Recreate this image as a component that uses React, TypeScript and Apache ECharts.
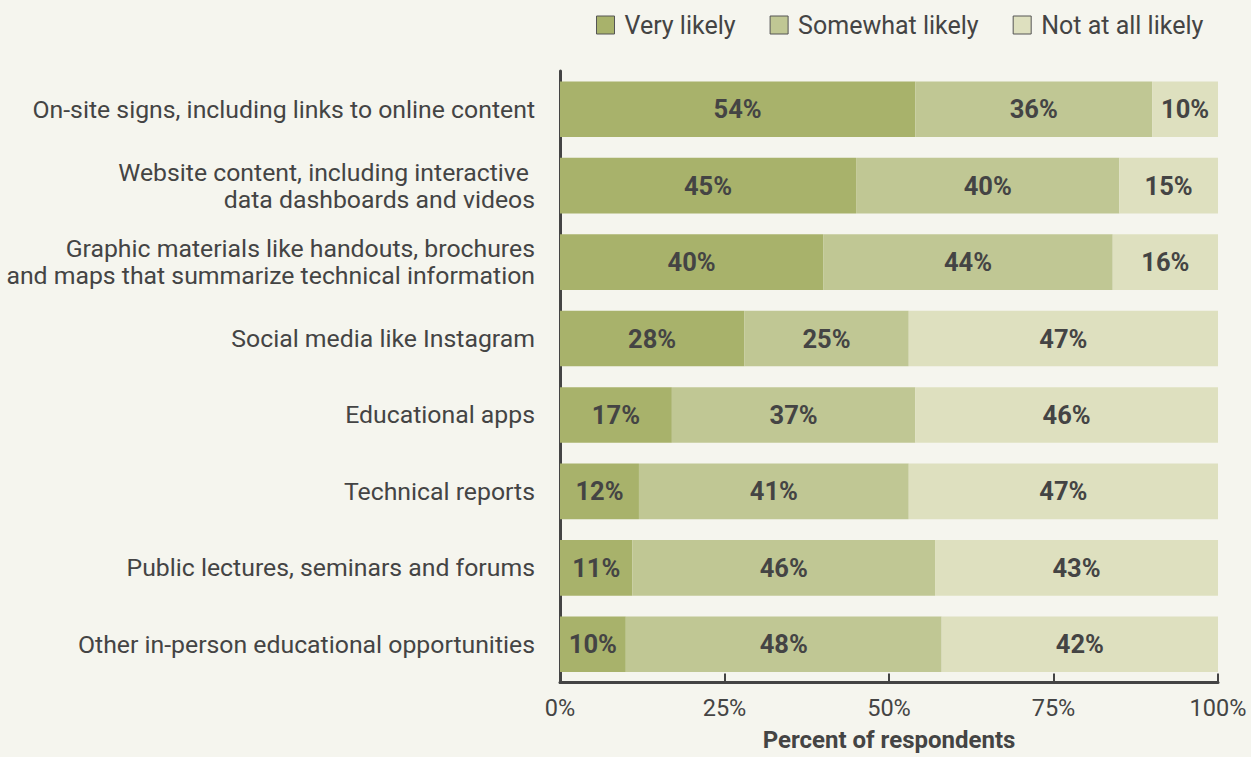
import React, { useEffect, useRef } from "react";
import * as echarts from "echarts";

const categories = [
  "On-site signs, including links to online content",
  "Website content, including interactive \ndata dashboards and videos",
  "Graphic materials like handouts, brochures\nand maps that summarize technical information",
  "Social media like Instagram",
  "Educational apps",
  "Technical reports",
  "Public lectures, seminars and forums",
  "Other in-person educational opportunities",
];
const veryLikely = [54, 45, 40, 28, 17, 12, 11, 10];
const somewhatLikely = [36, 40, 44, 25, 37, 41, 46, 48];
const notAtAllLikely = [10, 15, 16, 47, 46, 47, 43, 42];
const seriesNames = ["Very likely", "Somewhat likely", "Not at all likely"];
const colors = ["#a8b26b", "#c0c794", "#dee0bf"];

const FONT = "Roboto, 'Noto Sans', sans-serif";
const TEXT = "#444444";

export default function App() {
  const ref = useRef<HTMLDivElement>(null);
  useEffect(() => {
    if (!ref.current) return;
    const chart = echarts.init(ref.current, null, { renderer: "svg" });
    const data = [veryLikely, somewhatLikely, notAtAllLikely];
    chart.setOption({
      animation: false,
      backgroundColor: "#f5f5ee",
      textStyle: { fontFamily: FONT, color: TEXT },
      legend: {
        left: 591,
        top: 7.5,
        icon: "rect",
        itemWidth: 18,
        itemHeight: 18,
        itemGap: 34,
        textStyle: { fontFamily: FONT, fontSize: 25, color: TEXT, padding: [0, 0, 0, 5] },
        data: seriesNames.map((n, i) => ({
          name: n,
          itemStyle: { color: colors[i], borderColor: "#555555", borderWidth: 1 },
        })),
      },
      grid: { left: 560, right: 33, top: 71, bottom: 71, containLabel: false },
      xAxis: {
        type: "value",
        min: 0,
        max: 100,
        interval: 25,
        axisLine: { show: true, lineStyle: { color: TEXT, width: 3 } },
        axisTick: { show: true, inside: true, length: 9, lineStyle: { color: TEXT, width: 2 } },
        splitLine: { show: false },
        axisLabel: {
          formatter: "{value}%",
          fontFamily: FONT,
          fontSize: 23.5,
          color: TEXT,
          margin: 13,
        },
        name: "Percent of respondents",
        nameLocation: "middle",
        nameGap: 45.5,
        nameTextStyle: { fontFamily: FONT, fontSize: 24, fontWeight: "bold", color: TEXT },
      },
      yAxis: {
        type: "category",
        inverse: true,
        data: categories,
        axisLine: { show: true, lineStyle: { color: TEXT, width: 3 } },
        axisTick: { show: false },
        axisLabel: {
          fontFamily: FONT,
          fontSize: 24.8,
          color: TEXT,
          margin: 25,
          lineHeight: 27,
          align: "right",
        },
      },
      series: seriesNames.map((n, i) => ({
        name: n,
        type: "bar",
        stack: "total",
        barWidth: "72.8%",
        itemStyle: { color: colors[i] },
        label: {
          show: true,
          position: "inside",
          formatter: "{c}%",
          fontFamily: FONT,
          fontSize: 25.5,
          fontWeight: "bold",
          color: TEXT,
        },
        data: data[i],
      })),
    });
    return () => chart.dispose();
  }, []);
  return <div ref={ref} style={{ width: 1251, height: 757, position: "absolute", left: 0, top: 0 }} />;
}
